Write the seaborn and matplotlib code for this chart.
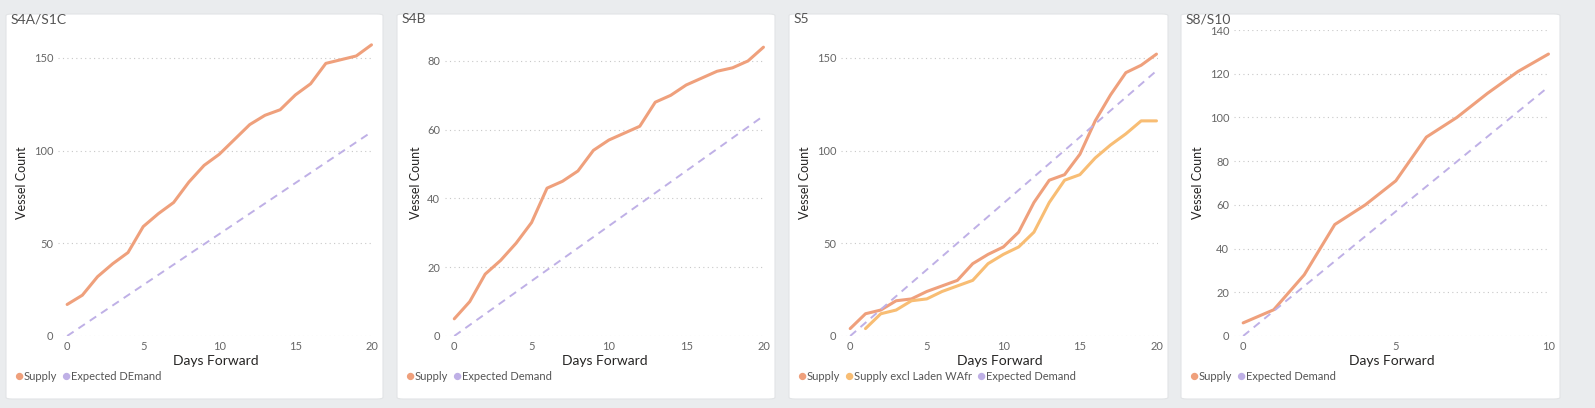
import numpy as np
import pandas as pd
import matplotlib.pyplot as plt
from matplotlib.patches import FancyBboxPatch
import seaborn as sns

# data
days20 = list(range(21))
days10 = list(range(11))

s4a_supply = [17, 22, 32, 39, 45, 59, 66, 72, 83, 92, 98, 106, 114, 119, 122, 130, 136, 147, 149, 151, 157]
s4a_demand = [5.5 * d for d in days20]

s4b_supply = [5, 10, 18, 22, 27, 33, 43, 45, 48, 54, 57, 59, 61, 68, 70, 73, 75, 77, 78, 80, 84]
s4b_demand = [3.2 * d for d in days20]

s5_supply = [4, 12, 14, 19, 20, 24, 27, 30, 39, 44, 48, 56, 72, 84, 87, 98, 116, 130, 142, 146, 152]
s5_excl = [np.nan, 4, 12, 14, 19, 20, 24, 27, 30, 39, 44, 48, 56, 72, 84, 87, 96, 103, 109, 116, 116]
s5_demand = [7.15 * d for d in days20]

s8_supply = [6, 12, 28, 51, 60, 71, 91, 100, 111, 121, 129]
s8_demand = [11.4 * d for d in days10]

C_SUP = '#EFA07C'
C_EXCL = '#F8BD74'
C_DEM = '#BFB0E6'

sns.set_style('white')
plt.rcParams['font.family'] = ['Lato', 'DejaVu Sans']

fig = plt.figure(figsize=(15.95, 4.08), dpi=100)
fig.patch.set_facecolor('#EAECEE')
renderer = fig.canvas.get_renderer()

W, H = 1595, 408
panels = [
    dict(x0=6, x1=383, title='S4A/S1C', x=days20, ys=[('Supply', s4a_supply, C_SUP, '-'), ('Expected DEmand', s4a_demand, C_DEM, '--')],
         yticks=[0, 50, 100, 150], ylim=(0, 165), xticks=[0, 5, 10, 15, 20], axl=58),
    dict(x0=397, x1=775, title='S4B', x=days20, ys=[('Supply', s4b_supply, C_SUP, '-'), ('Expected Demand', s4b_demand, C_DEM, '--')],
         yticks=[0, 20, 40, 60, 80], ylim=(0, 89), xticks=[0, 5, 10, 15, 20], axl=445),
    dict(x0=789, x1=1168, title='S5', x=days20, ys=[('Supply', s5_supply, C_SUP, '-'), ('Supply excl Laden WAfr', s5_excl, C_EXCL, '-'),
                                                    ('Expected Demand', s5_demand, C_DEM, '--')],
         yticks=[0, 50, 100, 150], ylim=(0, 165), xticks=[0, 5, 10, 15, 20], axl=841),
    dict(x0=1181, x1=1560, title='S8/S10', x=days10, ys=[('Supply', s8_supply, C_SUP, '-'), ('Expected Demand', s8_demand, C_DEM, '--')],
         yticks=[0, 20, 40, 60, 80, 100, 120, 140], ylim=(0, 140), xticks=[0, 5, 10], axl=1234),
]

for p in panels:
    # white card
    fig.patches.append(FancyBboxPatch((p['x0'] / W, 9 / H), (p['x1'] - p['x0']) / W, 385 / H,
                                      boxstyle='round,pad=0,rounding_size=0.004', transform=fig.transFigure,
                                      facecolor='white', edgecolor='#E2E4E6', lw=0.8, zorder=-1))
    fig.text((p['x0'] + 5) / W, 1 - 19 / H, p['title'], fontsize=10, color='#555555', va='center')

    ax = fig.add_axes([p['axl'] / W, 1 - 336 / H, (p['x1'] - 10 - p['axl']) / W, (336 - 30) / H])
    ax.set_zorder(2)
    ax.set_facecolor('none')
    for label, vals, col, ls in p['ys']:
        df = pd.DataFrame({'Days Forward': p['x'], 'Vessel Count': vals})
        if ls == '--':
            sns.lineplot(data=df, x='Days Forward', y='Vessel Count', ax=ax, color=col, lw=1.4, dashes=False,
                         linestyle=(0, (4, 3)))
        else:
            sns.lineplot(data=df, x='Days Forward', y='Vessel Count', ax=ax, color=col, lw=2.2)
    ax.set_ylim(*p['ylim'])
    ax.set_xlim(p['x'][0] - 0.03 * p['x'][-1], p['x'][-1] * 1.005)
    ax.set_yticks(p['yticks'])
    ax.set_xticks(p['xticks'])
    ax.tick_params(labelsize=8, colors='#666666', length=0)
    ax.grid(axis='y', linestyle=(0, (1, 3)), color='#C8C8C8', lw=0.8)
    for s in ax.spines.values():
        s.set_visible(False)
    ax.set_xlabel('Days Forward', fontsize=10, color='#252423', labelpad=2)
    ax.set_ylabel('Vessel Count', fontsize=9, color='#252423')

    # legend row
    lx = p['x0'] + 8
    for label, vals, col, ls in p['ys']:
        fig.text(lx / W, 1 - 377 / H, '\u25CF', color=col, fontsize=11, va='center')
        t = fig.text((lx + 10) / W, 1 - 377 / H, label, fontsize=8, color='#555555', va='center')
        lx += 10 + t.get_window_extent(renderer).width + 4

fig.savefig('out.png', dpi=100, facecolor=fig.get_facecolor())
